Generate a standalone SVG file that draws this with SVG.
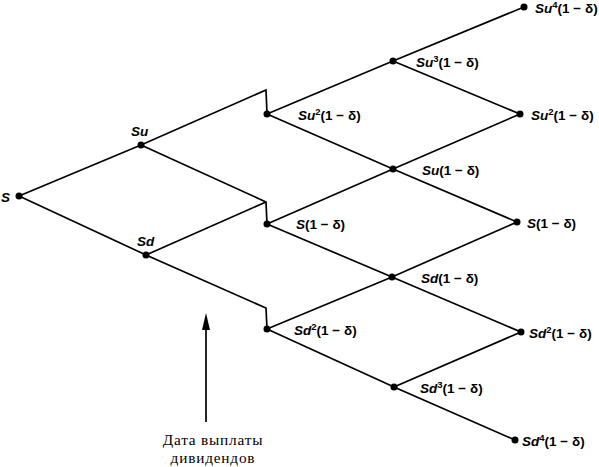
<svg xmlns="http://www.w3.org/2000/svg" width="599" height="467" viewBox="0 0 599 467">
<style>
.c{fill:none;stroke:#000;stroke-width:1.7;stroke-linejoin:miter}
.d{fill:#000}
.l{font-family:"Liberation Sans",Arial,sans-serif;font-weight:bold;font-size:13.5px;fill:#000}
.i{font-style:italic}
.cap{font-family:"Liberation Serif","Times New Roman",serif;font-size:15.3px;letter-spacing:0.8px;fill:#000}
</style>
<g id="connectors">
<path class="c" d="M19,196 L141,145 L266,90 L267,114"/>
<path class="c" d="M19,196 L146,255 L266,308 L267,329"/>
<path class="c" d="M141,145 L266,202 L267,224"/>
<path class="c" d="M146,255 L266,202"/>
<path class="c" d="M267,114 L393,61 L524,7"/>
<path class="c" d="M267,114 L393,169 L517,222"/>
<path class="c" d="M267,224 L393,169 L520,114 L393,61"/>
<path class="c" d="M267,224 L392,277 L521,332 L394,387 L515,440"/>
<path class="c" d="M267,329 L392,277 L517,222"/>
<path class="c" d="M267,329 L394,387"/>
<path class="c" d="M206,422 L206,318"/>
<path d="M202,330 L206,313 L210,330 Z" fill="#000"/>
</g>
<g id="n-s"><circle class="d" cx="19" cy="196" r="3.5"/><text class="l i" x="1" y="202">S</text></g>
<g id="n-su"><circle class="d" cx="141" cy="145" r="3.5"/><text class="l i" x="131" y="136">Su</text></g>
<g id="n-sd"><circle class="d" cx="146" cy="255" r="3.5"/><text class="l i" x="137" y="246">Sd</text></g>
<g id="n-su2a"><circle class="d" cx="267" cy="114" r="3.5"/><text class="l" x="298" y="120"><tspan class="i">Su</tspan><tspan dy="-5" font-size="9.5">2</tspan><tspan dy="5">(1 − δ)</tspan></text></g>
<g id="n-s1a"><circle class="d" cx="267" cy="224" r="3.5"/><text class="l" x="296" y="229"><tspan class="i">S</tspan>(1 − δ)</text></g>
<g id="n-sd2a"><circle class="d" cx="267" cy="329" r="3.5"/><text class="l" x="294" y="335"><tspan class="i">Sd</tspan><tspan dy="-5" font-size="9.5">2</tspan><tspan dy="5">(1 − δ)</tspan></text></g>
<g id="n-su3"><circle class="d" cx="393" cy="61" r="3.5"/><text class="l" x="416" y="67"><tspan class="i">Su</tspan><tspan dy="-5" font-size="9.5">3</tspan><tspan dy="5">(1 − δ)</tspan></text></g>
<g id="n-su1"><circle class="d" cx="393" cy="169" r="3.5"/><text class="l" x="422" y="175"><tspan class="i">Su</tspan>(1 − δ)</text></g>
<g id="n-sd1"><circle class="d" cx="392" cy="277" r="3.5"/><text class="l" x="421" y="283"><tspan class="i">Sd</tspan>(1 − δ)</text></g>
<g id="n-sd3"><circle class="d" cx="394" cy="387" r="3.5"/><text class="l" x="420" y="393"><tspan class="i">Sd</tspan><tspan dy="-5" font-size="9.5">3</tspan><tspan dy="5">(1 − δ)</tspan></text></g>
<g id="n-su4"><circle class="d" cx="524" cy="7" r="3.5"/><text class="l" x="535" y="13"><tspan class="i">Su</tspan><tspan dy="-5" font-size="9.5">4</tspan><tspan dy="5">(1 − δ)</tspan></text></g>
<g id="n-su2b"><circle class="d" cx="520" cy="114" r="3.5"/><text class="l" x="531" y="120"><tspan class="i">Su</tspan><tspan dy="-5" font-size="9.5">2</tspan><tspan dy="5">(1 − δ)</tspan></text></g>
<g id="n-s1b"><circle class="d" cx="517" cy="222" r="3.5"/><text class="l" x="527" y="228"><tspan class="i">S</tspan>(1 − δ)</text></g>
<g id="n-sd2b"><circle class="d" cx="521" cy="332" r="3.5"/><text class="l" x="529" y="338"><tspan class="i">Sd</tspan><tspan dy="-5" font-size="9.5">2</tspan><tspan dy="5">(1 − δ)</tspan></text></g>
<g id="n-sd4"><circle class="d" cx="515" cy="440" r="3.5"/><text class="l" x="522" y="446"><tspan class="i">Sd</tspan><tspan dy="-5" font-size="9.5">4</tspan><tspan dy="5">(1 − δ)</tspan></text></g>
<g id="caption">
<text class="cap" x="213" y="445" text-anchor="middle">Дата выплаты</text>
<text class="cap" x="213" y="463" text-anchor="middle">дивидендов</text>
</g>
</svg>
